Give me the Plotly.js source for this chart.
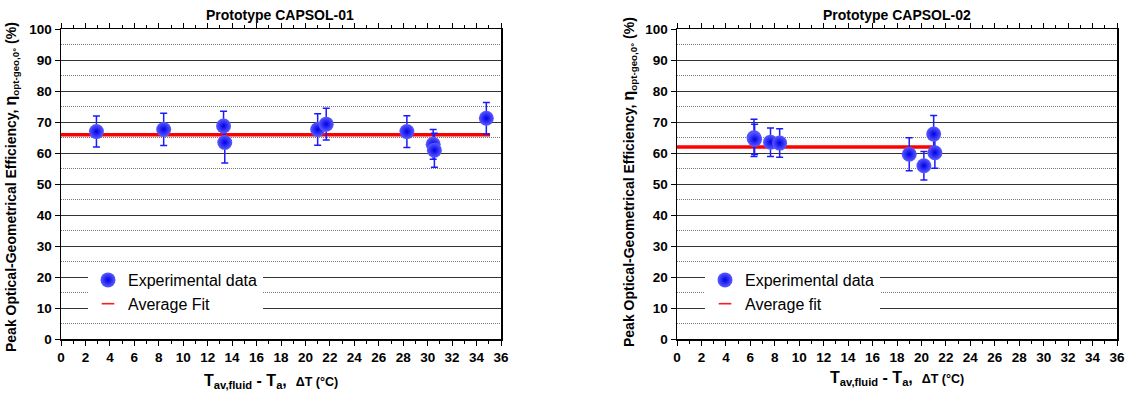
<!DOCTYPE html>
<html>
<head>
<meta charset="utf-8">
<script src="https://cdn.plot.ly/plotly-3.0.1.min.js"></script>
<style>html,body{margin:0;padding:0;background:#fff;}#chart{width:1137px;height:401px;}</style>
</head>
<body>
<div id="chart"></div>
<script>
// ---- Data: Prototype CAPSOL-01 ----
const dT1 = [2.9, 8.4, 13.3, 13.4, 21.0, 21.7, 28.3, 30.45, 30.55, 34.8];
const eff1 = [66.9, 67.6, 68.7, 63.4, 67.6, 69.3, 66.9, 62.8, 60.9, 71.2];
const err1 = [5.0, 5.2, 4.8, 6.6, 5.1, 5.1, 5.1, 4.8, 5.5, 5.1];
const fitX1 = [0, 35.1];
const fitY1 = [65.9, 65.9];

// ---- Data: Prototype CAPSOL-02 ----
const dT2 = [6.3, 6.35, 7.65, 8.4, 19.0, 20.2, 21.0, 21.1];
const eff2 = [64.9, 64.4, 63.5, 63.2, 59.6, 55.9, 66.1, 60.1];
const err2 = [6.0, 4.9, 4.6, 4.6, 5.3, 4.6, 6.0, 5.0];
const fitX2 = [0, 21.2];
const fitY2 = [61.9, 61.9];

const titles = ["Prototype CAPSOL-01", "Prototype CAPSOL-02"];
const legendNames1 = ["Experimental data", "Average Fit"];
const legendNames2 = ["Experimental data", "Average fit"];

const W = 1137, H = 401;
const FONT = "Arial, 'Liberation Sans', Helvetica, sans-serif";
const px = v => v / W;
const py = v => 1 - v / H;

const markerStyle = {
  size: 15, color: '#5c5cff',
  gradient: {type: 'radial', color: '#0000e6'},
  line: {width: 0}
};
const errStyle = a => ({type: 'data', array: a, visible: true, color: '#1a1aff', thickness: 1.5, width: 3.5});

function pointsTrace(x, y, e, xa, ya) {
  return {x: x, y: y, xaxis: xa, yaxis: ya, type: 'scatter', mode: 'markers',
    marker: markerStyle, error_y: errStyle(e), showlegend: false, hoverinfo: 'x+y'};
}
function fitTrace(x, y, xa, ya) {
  return {x: x, y: y, xaxis: xa, yaxis: ya, type: 'scatter', mode: 'lines',
    line: {color: '#ff0000', width: 3.5}, showlegend: false};
}
function legendMarker(name, xa, ya, lg) {
  return {x: [null], y: [null], xaxis: xa, yaxis: ya, type: 'scatter', mode: 'markers',
    name: name, marker: markerStyle, legend: lg, showlegend: true};
}
function legendLine(name, xa, ya, lg) {
  return {x: [null], y: [null], xaxis: xa, yaxis: ya, type: 'scatter', mode: 'markers',
    name: name, marker: {symbol: 'line-ew', size: 9, color: '#ff0000', line: {color: '#ff1a1a', width: 1.6}},
    legend: lg, showlegend: true};
}

const data = [
  fitTrace(fitX1, fitY1, 'x', 'y'),
  pointsTrace(dT1, eff1, err1, 'x', 'y'),
  fitTrace(fitX2, fitY2, 'x2', 'y2'),
  pointsTrace(dT2, eff2, err2, 'x2', 'y2'),
  legendMarker(legendNames1[0], 'x', 'y', 'legend'),
  legendLine(legendNames1[1], 'x', 'y', 'legend'),
  legendMarker(legendNames2[0], 'x2', 'y2', 'legend2'),
  legendLine(legendNames2[1], 'x2', 'y2', 'legend2')
];

function xAxis(domain, anchor) {
  return {
    domain: domain, anchor: anchor, range: [0, 36], tick0: 0, dtick: 2,
    ticks: 'outside', ticklen: 5, tickwidth: 1, tickcolor: '#000',
    minor: {dtick: 1, ticks: 'outside', ticklen: 3, tickcolor: '#000', showgrid: false},
    showline: true, linecolor: '#000', linewidth: 1.5, mirror: 'ticks',
    showgrid: false, zeroline: false, fixedrange: true,
    tickfont: {family: FONT, size: 13.5, color: '#000', weight: 'bold'}
  };
}
function yAxis(domain, anchor) {
  return {
    domain: domain, anchor: anchor, range: [0, 100], tick0: 0, dtick: 10,
    ticks: 'outside', ticklen: 5, tickwidth: 1, tickcolor: '#000',
    showline: true, linecolor: '#000', linewidth: 1.5, mirror: true,
    showgrid: true, gridcolor: '#333333', gridwidth: 1,
    minor: {dtick: 5, showgrid: true, gridcolor: '#7a7a7a', griddash: '1px,1px', gridwidth: 1, ticks: ''},
    zeroline: false, fixedrange: true,
    tickfont: {family: FONT, size: 13.5, color: '#000', weight: 'bold'}
  };
}

const yDom = [py(339), py(29)];
const yTitle = "<b>Peak Optical-Geometrical Efficiency, <span style='font-size:16px'>η</span><sub>opt-geo,0°</sub> (%)</b>";
const xTitle = "<b>T<sub>av,fluid</sub> - T<sub>a</sub>,  <span style='font-size:12.5px'>ΔT (°C)</span></b>";

const legendBase = {
  xanchor: 'left', yanchor: 'top', bgcolor: '#ffffff', borderwidth: 0,
  font: {family: FONT, size: 16, color: '#000'}, tracegroupgap: 0, itemwidth: 30
};

const layout = {
  width: W, height: H,
  margin: {l: 0, r: 0, t: 0, b: 0},
  paper_bgcolor: '#fff', plot_bgcolor: '#fff',
  font: {family: FONT, color: '#000'},
  xaxis: xAxis([px(61), px(501)], 'y'),
  yaxis: yAxis(yDom, 'x'),
  xaxis2: xAxis([px(677), px(1117)], 'y2'),
  yaxis2: yAxis(yDom, 'x2'),
  legend: Object.assign({}, legendBase, {x: px(88), y: py(263)}),
  legend2: Object.assign({}, legendBase, {x: px(705), y: py(263)}),
  annotations: [
    {text: '<b>' + titles[0] + '</b>', xref: 'paper', yref: 'paper', x: px(280), y: py(15),
      xanchor: 'center', yanchor: 'middle', showarrow: false, font: {family: FONT, size: 14}},
    {text: '<b>' + titles[1] + '</b>', xref: 'paper', yref: 'paper', x: px(897), y: py(15),
      xanchor: 'center', yanchor: 'middle', showarrow: false, font: {family: FONT, size: 14}},
    {text: yTitle, xref: 'paper', yref: 'paper', x: px(12), y: py(187), textangle: -90,
      xanchor: 'center', yanchor: 'middle', showarrow: false, font: {family: FONT, size: 14}},
    {text: yTitle, xref: 'paper', yref: 'paper', x: px(630), y: py(182), textangle: -90,
      xanchor: 'center', yanchor: 'middle', showarrow: false, font: {family: FONT, size: 14}},
    {text: xTitle, xref: 'paper', yref: 'paper', x: px(271), y: py(381),
      xanchor: 'center', yanchor: 'middle', showarrow: false, font: {family: FONT, size: 16}},
    {text: xTitle, xref: 'paper', yref: 'paper', x: px(897), y: py(378),
      xanchor: 'center', yanchor: 'middle', showarrow: false, font: {family: FONT, size: 16}}
  ]
};

Plotly.newPlot('chart', data, layout, {displayModeBar: false, staticPlot: true});
</script>
</body>
</html>
